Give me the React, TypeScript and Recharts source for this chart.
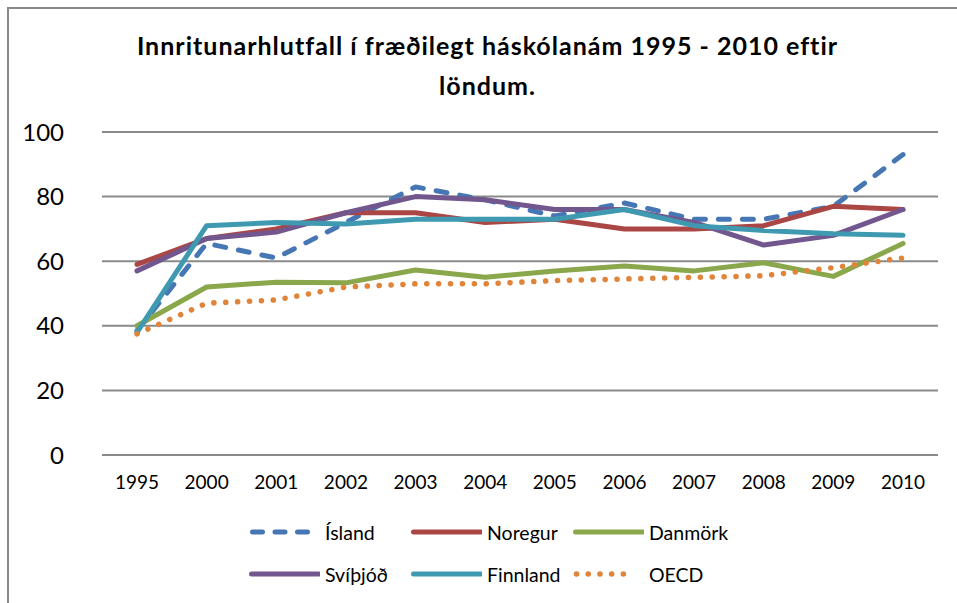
import { LineChart, Line, XAxis, YAxis, CartesianGrid, Legend } from 'recharts'

const years = ['1995', '2000', '2001', '2002', '2003', '2004', '2005', '2006', '2007', '2008', '2009', '2010']
const island = [38.5, 65.5, 61, 72, 83, 79, 74, 78, 73, 73, 77, 93]
const noregur = [59, 67, 70, 75, 75, 72, 73, 70, 70, 71, 77, 76]
const danmork = [40, 52, 53.5, 53.3, 57.3, 55, 57, 58.5, 57, 59.5, 55.3, 65.5]
const svithjod = [57, 67, 69, 75, 80, 79, 76, 76, 72, 65, 68, 76]
const finnland = [38, 71, 72, 71.5, 73, 73, 73, 76, 71, 69.5, 68.5, 68]
const oecd = [37.5, 47, 48, 52, 53, 53, 54, 54.5, 55, 55.5, 58, 61]
const yTicks = [0, 20, 40, 60, 80, 100]

const data = years.map((year, i) => ({
  year,
  island: island[i],
  noregur: noregur[i],
  danmork: danmork[i],
  svithjod: svithjod[i],
  finnland: finnland[i],
  oecd: oecd[i],
}))

const font = 'Lato, "Open Sans", sans-serif'

// legend is laid out in the same 3x2 grid as the original
const series = [
  { key: 'island', name: 'Ísland', color: '#4677B4', dash: '11 13', row: 0, col: 0 },
  { key: 'noregur', name: 'Noregur', color: '#AA4643', dash: undefined, row: 0, col: 1 },
  { key: 'danmork', name: 'Danmörk', color: '#8AA74B', dash: undefined, row: 0, col: 2 },
  { key: 'svithjod', name: 'Svíþjóð', color: '#72578F', dash: undefined, row: 1, col: 0 },
  { key: 'finnland', name: 'Finnland', color: '#3F9AB1', dash: undefined, row: 1, col: 1 },
  { key: 'oecd', name: 'OECD', color: '#E0843A', dash: '0.1 11.8', row: 1, col: 2 },
]

function legendIcon(key: string) {
  if (key === 'island') return { x1: 4.5, x2: 60, dash: '10 12.5' }
  if (key === 'oecd') return { x1: 4.5, x2: 62.6, dash: '0.1 11.6' }
  return { x1: 3.5, x2: 70.5, dash: undefined }
}

function LegendBox() {
  return (
    <div style={{ position: 'relative', width: 520, height: 90, fontFamily: font, fontSize: 19.5, color: '#000' }}>
      {series.map(s => {
        const ic = legendIcon(s.key)
        return (
          <div
            key={s.key}
            style={{
              position: 'absolute',
              left: s.col * 162,
              top: s.row * 42,
              display: 'flex',
              alignItems: 'center',
              height: 30,
            }}
          >
            <svg width={72} height={10}>
              <line
                x1={ic.x1}
                y1={5}
                x2={ic.x2}
                y2={5}
                stroke={s.color}
                strokeWidth={s.key === 'oecd' ? 5.5 : 5}
                strokeLinecap="round"
                strokeDasharray={ic.dash}
              />
            </svg>
            <span style={{ marginLeft: 5 }}>{s.name}</span>
          </div>
        )
      })}
    </div>
  )
}

export default function App() {
  return (
    <div style={{ position: 'fixed', left: 0, top: 0, width: 957, height: 603, background: '#fff', overflow: 'hidden' }}>
      <div
        style={{
          position: 'absolute',
          left: 7,
          top: 7,
          width: 1000,
          height: 700,
          borderLeft: '2px solid #8a8a8a',
          borderTop: '2px solid #8a8a8a',
        }}
      />
      <div
        style={{
          position: 'absolute',
          left: 0,
          width: 975,
          top: 25,
          textAlign: 'center',
          fontFamily: font,
          fontWeight: 'bold',
          fontSize: 25,
          letterSpacing: 1,
          lineHeight: '40px',
          color: '#000',
        }}
      >
        Innritunarhlutfall í fræðilegt háskólanám 1995 - 2010 eftir
        <br />
        löndum.
      </div>
      <div style={{ position: 'absolute', left: 0, top: 0 }}>
        <LineChart width={957} height={603} data={data} margin={{ top: 132, right: 19, bottom: 18, left: 0 }}>
          <CartesianGrid vertical={false} stroke="#8a8a8a" strokeWidth={2} />
          <XAxis
            dataKey="year"
            axisLine={false}
            tickLine={false}
            tickSize={0}
            tickMargin={21}
            height={40}
            interval={0}
            padding={{ left: 35, right: 35 }}
            tick={{ fill: '#000', fontSize: 19, fontFamily: font }}
          />
          <YAxis
            domain={[0, 100]}
            ticks={yTicks}
            axisLine={false}
            tickLine={false}
            tickSize={0}
            tickMargin={38}
            width={102}
            tick={{ fill: '#000', fontSize: 24, fontFamily: font }}
          />
          {series.map(s => (
            <Line
              key={s.key}
              dataKey={s.key}
              name={s.name}
              stroke={s.color}
              strokeWidth={s.key === 'oecd' ? 5.5 : 5}
              strokeDasharray={s.dash}
              strokeLinecap="round"
              strokeLinejoin="round"
              dot={false}
              activeDot={false}
              type="linear"
              isAnimationActive={false}
            />
          ))}
          <Legend
            content={() => <LegendBox />}
            wrapperStyle={{ position: 'absolute', left: 248, top: 517, width: 520, height: 90 }}
          />
        </LineChart>
      </div>
    </div>
  )
}
